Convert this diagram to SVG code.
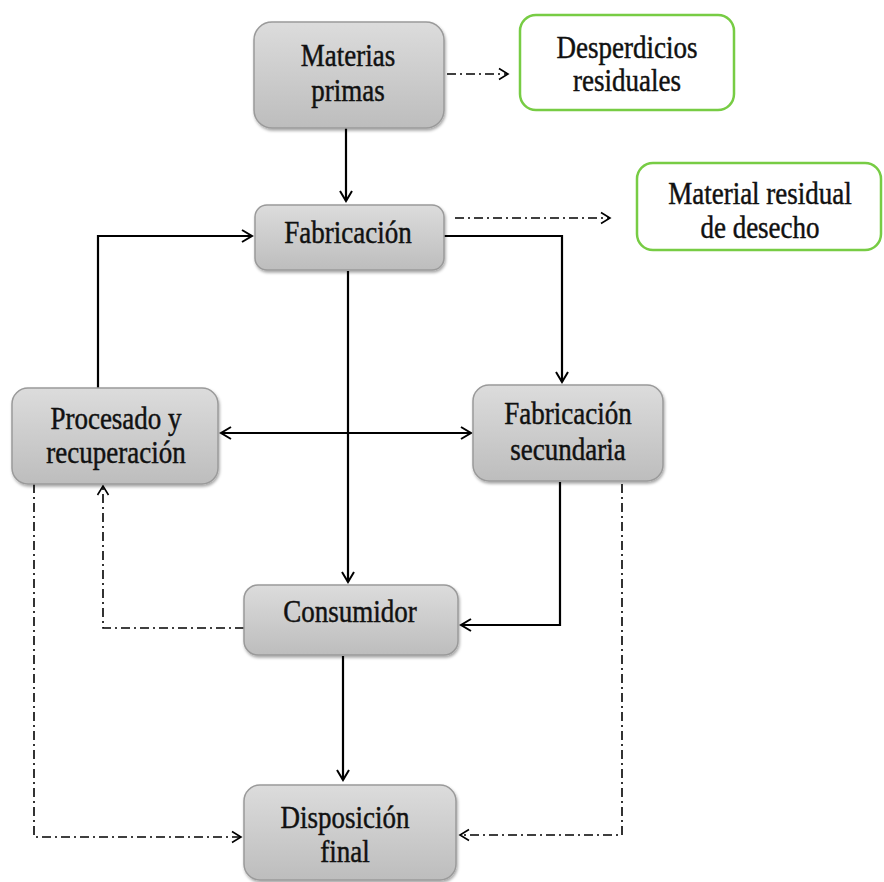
<svg xmlns="http://www.w3.org/2000/svg" width="884" height="882" viewBox="0 0 884 882">
<defs>
<linearGradient id="g" x1="0" y1="0" x2="0" y2="1">
<stop offset="0" stop-color="#dcdcdc"/>
<stop offset="1" stop-color="#bdbdbd"/>
</linearGradient>
<filter id="sh" x="-10%" y="-10%" width="130%" height="130%">
<feDropShadow dx="1" dy="2" stdDeviation="1.5" flood-color="#000" flood-opacity="0.35"/>
</filter>
<marker id="a" markerWidth="16" markerHeight="16" refX="13" refY="8" orient="auto" markerUnits="userSpaceOnUse">
<path d="M3,2 L13,8 L3,14" fill="none" stroke="#000" stroke-width="2"/>
</marker>
<marker id="ad" markerWidth="16" markerHeight="16" refX="13" refY="8" orient="auto" markerUnits="userSpaceOnUse">
<path d="M4,2.5 L13,8 L4,13.5" fill="none" stroke="#000" stroke-width="1.6"/>
</marker>
</defs>
<style>
.box{fill:url(#g);stroke:#9a9a9a;stroke-width:1.5;filter:url(#sh)}
.gbox{fill:#fff;stroke:#77cc44;stroke-width:2.5}
.t{font-family:"Liberation Serif","Times New Roman",serif;font-size:27px;fill:#111;text-anchor:middle;stroke:#111;stroke-width:0.4}
.s{fill:none;stroke:#000;stroke-width:2.2;marker-end:url(#a)}
.d{fill:none;stroke:#000;stroke-width:1.6;stroke-dasharray:9,4,2,4;marker-end:url(#ad)}
</style>
<g id="connectors">
<path class="s" d="M346,128 L346,201"/>
<path class="s" d="M98,388 L98,236 L252,236"/>
<path class="s" d="M444,236 L562,236 L562,382"/>
<path class="s" d="M348,271 L348,582"/>
<path class="s" d="M560,482 L560,625 L461,625"/>
<path class="s" d="M343,656 L343,780"/>
<path class="s" d="M300,433 L221,433"/>
<path class="s" d="M300,433 L471,433"/>
<path class="d" d="M447,74 L508,74"/>
<path class="d" d="M455,218 L610,218"/>
<path class="d" d="M244,628 L103,628 L103,486"/>
<path class="d" d="M34,484 L34,837 L241,837"/>
<path class="d" d="M622,484 L622,835 L460,835"/>
</g>
<g id="materias-primas">
<rect class="box" x="254" y="22" width="190" height="106" rx="18"/>
<text class="t" transform="translate(348,66) scale(1,1.15)">Materias</text>
<text class="t" transform="translate(348,101) scale(1,1.15)">primas</text>
</g>
<g id="desperdicios-residuales">
<rect class="gbox" x="520" y="15" width="214" height="95" rx="16"/>
<text class="t" transform="translate(627,58) scale(1,1.15)">Desperdicios</text>
<text class="t" transform="translate(627,91) scale(1,1.15)">residuales</text>
</g>
<g id="fabricacion">
<rect class="box" x="255" y="205" width="189" height="65" rx="12"/>
<text class="t" transform="translate(348,243) scale(1,1.15)">Fabricación</text>
</g>
<g id="material-residual">
<rect class="gbox" x="637" y="163" width="244" height="87" rx="16"/>
<text class="t" transform="translate(760,204) scale(1,1.15)">Material  residual</text>
<text class="t" transform="translate(760,238) scale(1,1.15)">de desecho</text>
</g>
<g id="procesado">
<rect class="box" x="12" y="388" width="206" height="96" rx="16"/>
<text class="t" transform="translate(116,429) scale(1,1.15)">Procesado  y</text>
<text class="t" transform="translate(116,463) scale(1,1.15)">recuperación</text>
</g>
<g id="fabricacion-secundaria">
<rect class="box" x="473" y="385" width="190" height="96" rx="16"/>
<text class="t" transform="translate(568,424) scale(1,1.15)">Fabricación</text>
<text class="t" transform="translate(568,460) scale(1,1.15)">secundaria</text>
</g>
<g id="consumidor">
<rect class="box" x="244" y="585" width="214" height="70" rx="14"/>
<text class="t" transform="translate(350,622) scale(1,1.15)">Consumidor</text>
</g>
<g id="disposicion-final">
<rect class="box" x="244" y="785" width="212" height="95" rx="16"/>
<text class="t" transform="translate(345,828) scale(1,1.15)">Disposición</text>
<text class="t" transform="translate(345,862) scale(1,1.15)">final</text>
</g>
</svg>
